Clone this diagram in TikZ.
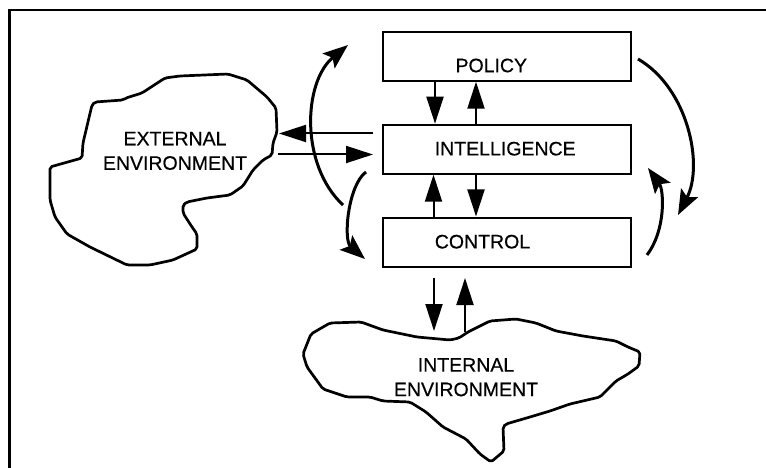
\documentclass[tikz,border=0pt]{standalone}
\usepackage{fontspec}
\setmainfont[FakeBold=0.5]{Liberation Sans}
\usetikzlibrary{arrows.meta}
\begin{document}
\begin{tikzpicture}[x=1pt,y=-1pt,
  box/.style={draw, line width=2pt, minimum width=248pt, minimum height=49pt, inner sep=0pt},
  lbl/.style={inner sep=0pt, font=\fontsize{19.5}{24.5}\selectfont, align=center},
  blob/.style={line width=2.7pt, line join=round, rounded corners=2pt},
  sarr/.style={line width=2pt, -{Triangle[length=27pt,width=17pt]}},
  carr/.style={line width=3pt, -{Stealth[length=25pt,width=19pt,inset=5pt]}},
  frame/.style={line width=2.2pt}
]
\useasboundingbox (0,0) rectangle (766,468);

% open frame (left and top edges)
\draw[frame] (9.5,468) -- (9.5,10) -- (766,10);

% the three system levels
\node[box] (pol) at (507,56.2) {};
\node[box] (int) at (507,149.2) {};
\node[box] (con) at (507,242) {};
\node[lbl] (polT) at (491.3,65.5) {POLICY};
\node[lbl] (intT) at (505.2,148.7) {INTELLIGENCE};
\node[lbl] (conT) at (482.5,241.7) {CONTROL};

% external environment outline
\draw[blob] (95,102) -- (123,100) -- (126,98) -- (142,93) -- (165,78) -- (180,76)
  -- (228,74) -- (247,80) -- (267,97) -- (276,108) -- (277,132) -- (273,143)
  -- (272,155) -- (263,160) -- (253,170) -- (243,186) -- (230,195) -- (207,198)
  -- (187,202) -- (183,205) -- (183,213) -- (192,227) -- (197,234) -- (197,249)
  -- (173,260) -- (150,265) -- (127,265) -- (90,247) -- (67,234) -- (55,217)
  -- (50,200) -- (50,167) -- (82,158) -- (83,143) -- (92,105) -- cycle;
\node[lbl] (ext) at (175,150.9) {EXTERNAL\\ENVIRONMENT};

% internal environment outline
\draw[blob] (311,334) -- (330,323) -- (361,322) -- (383,330) -- (417,337) -- (450,340)
  -- (459,338) -- (468,332) -- (490,321) -- (516,319) -- (536,323) -- (556,331)
  -- (583,336) -- (616,341) -- (628,347) -- (640,352) -- (639,366) -- (628,374)
  -- (616,381) -- (600,397) -- (570,404) -- (550,411) -- (530,417) -- (506,424)
  -- (503,427) -- (504,451) -- (491,462) -- (480,454) -- (466,439) -- (443,427)
  -- (426,412) -- (410,402) -- (383,401) -- (370,397) -- (347,397) -- (323,389)
  -- (307,367) -- (303,354) -- cycle;
\node[lbl] (inn) at (466,377.3) {INTERNAL\\ENVIRONMENT};

% links between levels
\draw[sarr] ([xshift=-72pt]pol.south) -- ([xshift=-72pt]int.north);
\draw[sarr] ([xshift=-31pt]int.north) -- ([xshift=-31pt]pol.south);
\draw[sarr] ([xshift=-73.5pt]con.north) -- ([xshift=-73.5pt]int.south);
\draw[sarr] ([xshift=-31pt]int.south) -- ([xshift=-31pt]con.north);

% exchange with the external environment
\coordinate (eOut) at (373,133.5);
\coordinate (eIn)  at (279,133.5);
\coordinate (iOut) at (278,154.5);
\coordinate (iIn)  at (373,154.5);
\draw[sarr] (eOut) -- (eIn);
\draw[sarr] (iOut) -- (iIn);

% exchange with the internal environment
\coordinate (cD1) at (434,278);
\coordinate (cD2) at (434,331);
\coordinate (cU1) at (465,332);
\coordinate (cU2) at (465,278);
\draw[sarr] (cD1) -- (cD2);
\draw[sarr] (cU1) -- (cU2);

% feedback loops
\coordinate (l1a) at (343,205);
\coordinate (l1b) at (348,45);
\coordinate (l2a) at (366,172);
\coordinate (l2b) at (365,259);
\coordinate (r1a) at (638,59);
\coordinate (r1b) at (678,215);
\coordinate (r2a) at (647,255);
\coordinate (r2b) at (648,168);
\draw[carr] (l1a) .. controls (300,165) and (303,82) .. (l1b);
\draw[carr] (l2a) .. controls (348,185) and (343,240) .. (l2b);
\draw[carr] (r1a) .. controls (688,88) and (704,165) .. (r1b);
\draw[carr] (r2a) .. controls (666,230) and (664,190) .. (r2b);
\end{tikzpicture}
\end{document}
